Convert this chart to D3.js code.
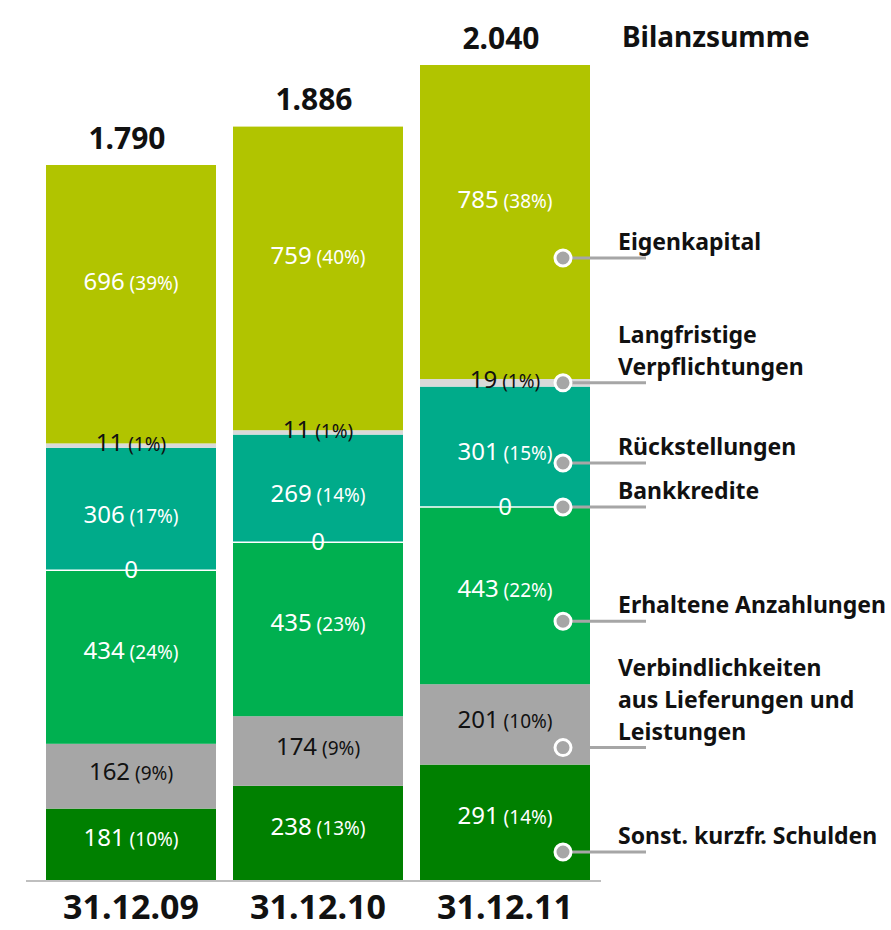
<!DOCTYPE html>
<html><head><meta charset="utf-8">
<script src="https://cdn.jsdelivr.net/npm/d3@7"></script>
<style>
html,body{margin:0;padding:0;background:#fff;}
svg{display:block;font-family:"Noto Sans",sans-serif;}
</style></head>
<body>
<svg id="chart" width="891" height="930"></svg>
<script>
// ---- data ----
const dates = ["31.12.09", "31.12.10", "31.12.11"];
const seriesKeys = ["sonst", "verb", "erh", "bank", "rueck", "langfr", "eigen"];
const legendLabels = [
  ["Sonst. kurzfr. Schulden"],
  ["Verbindlichkeiten", "aus Lieferungen und", "Leistungen"],
  ["Erhaltene Anzahlungen"],
  ["Bankkredite"],
  ["Rückstellungen"],
  ["Langfristige", "Verpflichtungen"],
  ["Eigenkapital"]
];
const sonstKurzfrSchulden = [181, 238, 291];
const verbindlichkeitenLuL = [162, 174, 201];
const erhalteneAnzahlungen = [434, 435, 443];
const bankkredite = [0, 0, 0];
const rueckstellungen = [306, 269, 301];
const langfristigeVerpfl = [11, 11, 19];
const eigenkapital = [696, 759, 785];
const titleText = "Bilanzsumme";

// ---- styles ----
const colors = {sonst:"#008000", verb:"#a6a6a6", erh:"#00b050", bank:"#ffffff", rueck:"#00ab8a", langfr:"#d9d9d9", eigen:"#b1c400"};
const labelColors = {sonst:"#fff", verb:"#111", erh:"#fff", bank:"#fff", rueck:"#fff", langfr:"#111", eigen:"#fff"};
const labelDy = {sonst:-4, verb:-2, erh:-4, bank:2, rueck:8, langfr:0, eigen:-20};
const legendAbove = {sonst:29, verb:17, erh:63, bank:0, rueck:44, langfr:null, eigen:121};

const valuesByKey = {sonst:sonstKurzfrSchulden, verb:verbindlichkeitenLuL, erh:erhalteneAnzahlungen,
  bank:bankkredite, rueck:rueckstellungen, langfr:langfristigeVerpfl, eigen:eigenkapital};

const rows = dates.map((d, i) => {
  const r = {date: d};
  seriesKeys.forEach(k => r[k] = valuesByKey[k][i]);
  r.total = d3.sum(seriesKeys, k => r[k]);
  return r;
});

const de = d3.formatLocale({decimal:",", thousands:".", grouping:[3], currency:["", " €"]});
const fmtTotal = de.format(",");

const svg = d3.select("#chart");
const baseline = 881;
const x = d3.scaleBand().domain(dates).range([46, 590]).paddingInner(17/187).paddingOuter(0);
const y = d3.scaleLinear().domain([0, 2040]).range([baseline, 65]);

const stack = d3.stack().keys(seriesKeys)(rows);

// bars
const g = svg.append("g");
stack.forEach(layer => {
  const k = layer.key;
  layer.forEach(seg => {
    const d = seg.data;
    if (d[k] > 0) {
      g.append("rect")
        .attr("x", x(d.date)).attr("width", x.bandwidth())
        .attr("y", y(seg[1])).attr("height", y(seg[0]) - y(seg[1]))
        .attr("fill", colors[k]);
    }
  });
});
// zero-value segments drawn as white separator line
stack.forEach(layer => {
  const k = layer.key;
  layer.forEach(seg => {
    const d = seg.data;
    if (d[k] === 0) {
      g.append("line")
        .attr("x1", x(d.date)).attr("x2", x(d.date) + x.bandwidth())
        .attr("y1", y(seg[1])).attr("y2", y(seg[1]))
        .attr("stroke", "#fff").attr("stroke-width", 1.5);
    }
  });
});

// axis line
svg.append("line").attr("x1", 26).attr("x2", 601).attr("y1", baseline).attr("y2", baseline)
  .attr("stroke", "#bfbfbf").attr("stroke-width", 2);

// legend connectors (bar 3)
const last = dates.length - 1;
const lg = svg.append("g");
stack.forEach((layer, li) => {
  const k = layer.key;
  const seg = layer[last];
  let cy;
  if (legendAbove[k] === null) cy = (y(seg[0]) + y(seg[1])) / 2;
  else cy = y(seg[0]) - legendAbove[k];
  const cx = x(dates[last]) + x.bandwidth() - 27;
  lg.append("line").attr("x1", cx).attr("x2", 646).attr("y1", cy).attr("y2", cy)
    .attr("stroke", "#a6a6a6").attr("stroke-width", 3);
  lg.append("circle").attr("cx", cx).attr("cy", cy).attr("r", 8)
    .attr("fill", "#a6a6a6").attr("stroke", "#fff").attr("stroke-width", 3);
  const lines = legendLabels[li];
  const t = lg.append("text").attr("x", 618).attr("font-size", 23).attr("font-weight", 700).attr("fill", "#111");
  lines.forEach((ln, j) => {
    t.append("tspan").attr("x", 618)
      .attr("y", cy - 16 - (lines.length - 1 - j) * 32)
      .attr("dy", "0.35em").text(ln);
  });
});

// value labels
stack.forEach(layer => {
  const k = layer.key;
  layer.forEach(seg => {
    const d = seg.data;
    const v = d[k];
    const cy = (y(seg[0]) + y(seg[1])) / 2 + labelDy[k];
    const t = g.append("text")
      .attr("x", x(d.date) + x.bandwidth() / 2).attr("y", cy).attr("dy", "0.35em")
      .attr("text-anchor", "middle").attr("fill", labelColors[k]);
    t.append("tspan").attr("font-size", 24).text(v);
    if (v > 0) {
      t.append("tspan").attr("font-size", 19).text(" (" + Math.round(v / d.total * 100) + "%)");
    }
  });
});

// totals
svg.append("g").selectAll("text").data(rows).join("text")
  .attr("x", d => x(d.date) + x.bandwidth() / 2 - 4)
  .attr("y", d => y(d.total) - 27).attr("dy", "0.35em")
  .attr("text-anchor", "middle").attr("font-size", 30).attr("font-weight", 700).attr("fill", "#111")
  .text(d => fmtTotal(d.total));

// category labels
svg.append("g").selectAll("text").data(dates).join("text")
  .attr("x", d => x(d) + x.bandwidth() / 2).attr("y", 919)
  .attr("text-anchor", "middle").attr("font-size", 34).attr("font-weight", 700).attr("fill", "#111")
  .text(d => d);

// title
svg.append("text").attr("x", 622).attr("y", 37).attr("dy", "0.35em")
  .attr("font-size", 28).attr("font-weight", 700).attr("fill", "#111").text(titleText);
</script>
</body></html>
